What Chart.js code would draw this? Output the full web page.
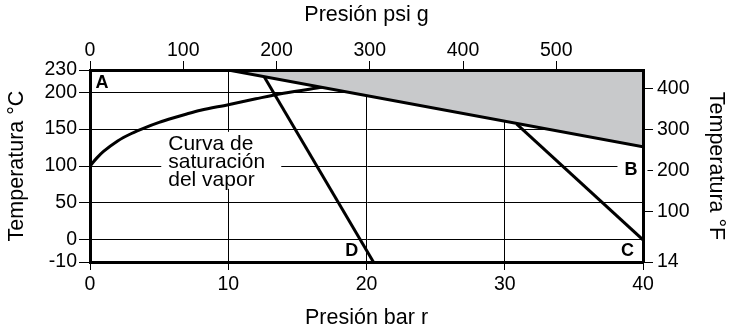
<!DOCTYPE html>
<html>
<head>
<meta charset="utf-8">
<script src="https://cdn.jsdelivr.net/npm/chart.js@4/dist/chart.umd.min.js"></script>
<style>
  html, body { margin: 0; padding: 0; background: #fff; }
</style>
</head>
<body>
<canvas id="chart" width="729" height="331"></canvas>
<script>
// Ejes
const barTicks = [0, 10, 20, 30, 40];
const psiTicks = [0, 100, 200, 300, 400, 500];
const celsiusTicks = [-10, 0, 50, 100, 150, 200, 230];
const fahrenheitTicks = [14, 100, 200, 300, 400];

// Curva de saturación del vapor (bar r, °C)
const satBar = [0, 0.5, 1, 2, 3, 4, 5, 6, 7, 8, 10, 12, 14, 16.8];
const satTemp = [100, 111, 120, 134, 144, 152, 159, 165, 170.5, 175.5, 183, 191, 198.5, 206.5];

// Límite superior (zona gris)
const limitBar = [10, 40];
const limitTemp = [230, 126];

// Rectas D y C
const lineDBar = [12.6, 20.5];
const lineDTemp = [221, -10];
const lineCBar = [30.85, 40];
const lineCTemp = [157, 0];

// Letras
const letters = ['A', 'B', 'C', 'D'];
const letterBar = [0.4, 39.6, 39.35, 19.4];
const letterTemp = [212, 95, -5, -5];

const curveLabel = ['Curva de', 'saturación', 'del vapor'];

// el tramo bajo 0 °C está dibujado ampliado (x3) en el original
function yDisp(t) {
    return t < 0 ? t * 3 : t;
}
function toF(f) {
    return (f - 32) * 5 / 9;
}
function pts(xs, ys) {
    return xs.map((v, i) => ({ x: v, y: yDisp(ys[i]) }));
}

const FONT = '"Liberation Sans", Arial, Helvetica, sans-serif';
Chart.defaults.font.family = FONT;
Chart.defaults.color = '#000';

const notesPlugin = {
    id: 'notes',
    beforeDatasetsDraw(chart) {
        const { ctx } = chart;
        const x = chart.scales.x, y = chart.scales.y;
        ctx.save();
        // texto de la curva sobre fondo blanco
        const tx = x.getPixelForValue(5.66);
        const ty = y.getPixelForValue(130);
        const lh = 18;
        ctx.fillStyle = '#fff';
        ctx.fillRect(tx - 7, ty - 12, 120, lh * 2 + 21);
        ctx.fillStyle = '#000';
        ctx.font = '21px ' + FONT;
        ctx.textAlign = 'left';
        ctx.textBaseline = 'middle';
        curveLabel.forEach((s, i) => ctx.fillText(s, tx, ty + i * lh));
        // hueco para la B
        const bx = x.getPixelForValue(letterBar[1]);
        const by = y.getPixelForValue(yDisp(letterTemp[1]));
        ctx.fillStyle = '#fff';
        ctx.fillRect(bx - 20, by - 9, 30, 18);
        ctx.restore();
    },
    afterDatasetsDraw(chart) {
        const { ctx } = chart;
        const x = chart.scales.x, y = chart.scales.y;
        ctx.save();
        ctx.fillStyle = '#000';
        ctx.font = 'bold 18px ' + FONT;
        ctx.textBaseline = 'middle';
        letters.forEach((l, i) => {
            ctx.textAlign = i === 0 ? 'left' : 'right';
            ctx.fillText(l, x.getPixelForValue(letterBar[i]), y.getPixelForValue(yDisp(letterTemp[i])));
        });
        ctx.restore();
    }
};

const tickFont = { size: 19.5, lineHeight: 1 };
const titleFont = { size: 21.5, lineHeight: 1.2 };

const lineStyle = {
    borderColor: '#000',
    borderWidth: 3,
    pointRadius: 0,
    fill: false,
    xAxisID: 'x',
    yAxisID: 'y'
};

new Chart(document.getElementById('chart'), {
    type: 'line',
    data: {
        datasets: [
            Object.assign({}, lineStyle, {
                data: pts(limitBar, limitTemp),
                fill: 'end',
                backgroundColor: '#c8c9cb'
            }),
            Object.assign({}, lineStyle, {
                data: pts(satBar, satTemp),
                cubicInterpolationMode: 'monotone'
            }),
            Object.assign({}, lineStyle, { data: pts(lineDBar, lineDTemp) }),
            Object.assign({}, lineStyle, { data: pts(lineCBar, lineCTemp) })
        ]
    },
    options: {
        responsive: false,
        animation: false,
        devicePixelRatio: 1,
        layout: { padding: 0 },
        plugins: {
            legend: { display: false },
            tooltip: { enabled: false }
        },
        scales: {
            x: {
                type: 'linear',
                position: 'bottom',
                min: 0,
                max: 40,
                afterBuildTicks: s => { s.ticks = barTicks.map(v => ({ value: v })); },
                afterFit: s => { s.height = 69; },
                grid: { color: '#000', lineWidth: 1, tickLength: 8, tickColor: '#000' },
                border: { color: '#000', width: 3, z: 1 },
                ticks: { font: tickFont, padding: 5, maxRotation: 0, autoSkip: false },
                title: { display: true, text: 'Presión bar r', font: titleFont, padding: { top: 0, bottom: 0 } }
            },
            x2: {
                type: 'linear',
                position: 'top',
                min: 0,
                max: 593,
                afterBuildTicks: s => { s.ticks = psiTicks.map(v => ({ value: v })); },
                afterFit: s => { s.height = 70; },
                grid: { drawOnChartArea: false, color: '#000', tickLength: 9, tickColor: '#000' },
                border: { color: '#000', width: 3, z: 1 },
                ticks: { font: tickFont, padding: 1, maxRotation: 0, autoSkip: false },
                title: { display: true, text: 'Presión psi g', font: titleFont, padding: { top: 2, bottom: 0 } }
            },
            y: {
                type: 'linear',
                position: 'left',
                min: -30,
                max: 230,
                afterBuildTicks: s => { s.ticks = celsiusTicks.map(t => ({ value: yDisp(t) })); },
                afterFit: s => { s.width = 90; },
                grid: { color: '#000', lineWidth: 1, tickLength: 11, tickColor: '#000' },
                border: { color: '#000', width: 3, z: 1 },
                ticks: {
                    font: tickFont,
                    padding: 2,
                    autoSkip: false,
                    callback: (v, i) => celsiusTicks[i]
                },
                title: { display: true, text: 'Temperatura °C', font: titleFont, padding: { top: 4, bottom: 0 } }
            },
            y2: {
                type: 'linear',
                position: 'right',
                min: -30,
                max: 230,
                afterBuildTicks: s => { s.ticks = fahrenheitTicks.map(f => ({ value: yDisp(toF(f)) })); },
                afterFit: s => { s.width = 86; },
                grid: { drawOnChartArea: false, color: '#000', tickLength: 10, tickColor: '#000' },
                border: { color: '#000', width: 3, z: 1 },
                ticks: {
                    font: tickFont,
                    padding: 4,
                    autoSkip: false,
                    callback: (v, i) => fahrenheitTicks[i]
                },
                title: { display: true, text: 'Temperatura °F', font: titleFont, padding: { top: 0, bottom: 0 } }
            }
        }
    },
    plugins: [notesPlugin]
});
</script>
</body>
</html>
